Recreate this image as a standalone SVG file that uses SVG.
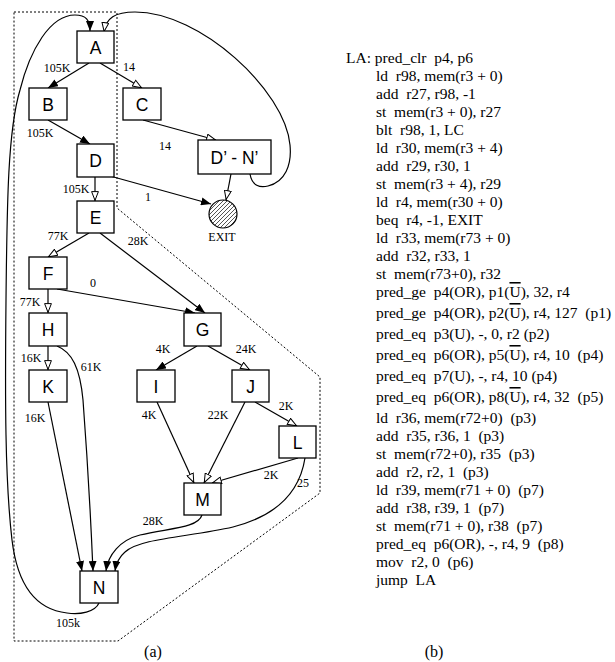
<svg xmlns="http://www.w3.org/2000/svg" width="615" height="662" viewBox="0 0 615 662">
<style>
.bg{fill:#fff}
.box{fill:#fff;stroke:#000;stroke-width:1.3}
.nl{font-family:"Liberation Sans",Arial,sans-serif;font-size:17.5px;text-anchor:middle;fill:#000}
.el{font-family:"Liberation Serif","Times New Roman",serif;font-size:12px;text-anchor:middle;fill:#000}
.cap{font-family:"Liberation Serif","Times New Roman",serif;font-size:16px;text-anchor:middle;fill:#000}
.code{font-family:"Liberation Serif","Times New Roman",serif;font-size:15.5px;fill:#000;white-space:pre}
.e{fill:none;stroke:#000;stroke-width:1.2}
.f{marker-end:url(#af)}
.o{marker-end:url(#ao)}
.dot{fill:none;stroke:#000;stroke-width:1;stroke-dasharray:2,2}
</style>
<defs>
<marker id="af" viewBox="0 0 10 8" refX="10" refY="4" markerWidth="10" markerHeight="8" orient="auto" markerUnits="userSpaceOnUse"><path d="M0,0 L10,4 L0,8 z" fill="#000"/></marker>
<marker id="ao" viewBox="0 0 10 8" refX="10" refY="4" markerWidth="10" markerHeight="8" orient="auto" markerUnits="userSpaceOnUse"><path d="M0.6,0.6 L9.4,4 L0.6,7.4 z" fill="#fff" stroke="#000" stroke-width="1"/></marker>
<pattern id="hatch" patternUnits="userSpaceOnUse" width="4" height="4"><rect width="4" height="4" fill="#fff"/><path d="M-1,1 l2,-2 M0,4 l4,-4 M3,5 l2,-2" stroke="#555" stroke-width="1"/></pattern>
</defs>
<rect class="bg" x="0" y="0" width="615" height="662"/>

<g id="region">
<path class="dot" d="M14,12 L117,12 L117,208 L320,377 L320,493 L118,641 L14,641 Z"/>
</g>

<g id="connectors">
<path class="e f" d="M89,63 L48,88"/>
<path class="e o" d="M100,63 L142,88"/>
<path class="e f" d="M48,120 L90,144"/>
<path class="e o" d="M143,120 L216,140"/>
<path class="e o" d="M95,177 L95,201"/>
<path class="e f" d="M110,176 L211,204"/>
<path class="e o" d="M231,174 L226,200"/>
<path class="e o" d="M250,174 C252,186 260,188 268,186 C285,182 292,165 290,145 C285,90 200,12 135,12 C115,12 106,18 104,32"/>
<path class="e f" d="M99,603 C95,612 80,615 67,613 C40,610 18,590 12,540 C5,480 5,400 6,300 C7,200 8,130 20,90 C30,50 50,15 75,15 C86,15 90,20 90,31"/>
<path class="e o" d="M89,233 L48,257"/>
<path class="e f" d="M100,233 L205,313"/>
<path class="e o" d="M48,289 L48,313"/>
<path class="e f" d="M57,289 L195,313"/>
<path class="e o" d="M48,346 L48,370"/>
<path class="e f" d="M57,346 C72,352 80,368 83,400 C86,440 90,500 93,571"/>
<path class="e f" d="M48,402 L82,571"/>
<path class="e f" d="M197,346 L156,370"/>
<path class="e o" d="M208,346 L250,370"/>
<path class="e o" d="M157,402 L194,483"/>
<path class="e o" d="M245,402 L204,483"/>
<path class="e o" d="M255,402 L297,426"/>
<path class="e o" d="M298,458 L212,483"/>
<path class="e f" d="M305,458 C300,490 280,515 233,527 C190,537 140,538 125,552 C118,558 116,564 115,571"/>
<path class="e f" d="M202,515 C198,528 170,528 140,535 C120,540 108,555 106,571"/>
</g>

<g id="edge-labels">
<text class="el" x="57" y="72">105K</text>
<text class="el" x="129" y="71">14</text>
<text class="el" x="40" y="137">105K</text>
<text class="el" x="165" y="150">14</text>
<text class="el" x="76" y="193">105K</text>
<text class="el" x="148" y="201">1</text>
<text class="el" x="58" y="240">77K</text>
<text class="el" x="138" y="245">28K</text>
<text class="el" x="93" y="287">0</text>
<text class="el" x="30" y="306">77K</text>
<text class="el" x="31" y="362">16K</text>
<text class="el" x="91" y="371">61K</text>
<text class="el" x="163" y="353">4K</text>
<text class="el" x="246" y="353">24K</text>
<text class="el" x="35" y="422">16K</text>
<text class="el" x="149" y="419">4K</text>
<text class="el" x="218" y="419">22K</text>
<text class="el" x="286" y="410">2K</text>
<text class="el" x="271" y="479">2K</text>
<text class="el" x="303" y="487">25</text>
<text class="el" x="153" y="525">28K</text>
<text class="el" x="68" y="627">105k</text>
</g>

<g id="A"><rect class="box" x="77" y="31" width="37" height="32"/><text class="nl" x="95.5" y="53.5">A</text></g>
<g id="B"><rect class="box" x="29" y="88" width="38" height="32"/><text class="nl" x="48" y="110.5">B</text></g>
<g id="C"><rect class="box" x="123" y="88" width="38" height="32"/><text class="nl" x="142" y="110.5">C</text></g>
<g id="D"><rect class="box" x="77" y="144" width="37" height="33"/><text class="nl" x="95.5" y="167">D</text></g>
<g id="DN"><rect class="box" x="198" y="140" width="73" height="34"/><text class="nl" x="234.5" y="163.5">D’ - N’</text></g>
<g id="EXIT"><circle cx="223" cy="214" r="14" fill="url(#hatch)" stroke="#000" stroke-width="1.2"/><text class="el" x="222" y="241">EXIT</text></g>
<g id="E"><rect class="box" x="77" y="201" width="37" height="32"/><text class="nl" x="95.5" y="223.5">E</text></g>
<g id="F"><rect class="box" x="29" y="257" width="38" height="32"/><text class="nl" x="48" y="279.5">F</text></g>
<g id="G"><rect class="box" x="184" y="313" width="37" height="33"/><text class="nl" x="202.5" y="336">G</text></g>
<g id="H"><rect class="box" x="29" y="313" width="38" height="33"/><text class="nl" x="48" y="336">H</text></g>
<g id="K"><rect class="box" x="29" y="370" width="38" height="32"/><text class="nl" x="48" y="392.5">K</text></g>
<g id="I"><rect class="box" x="137" y="370" width="38" height="32"/><text class="nl" x="156" y="392.5">I</text></g>
<g id="J"><rect class="box" x="232" y="370" width="37" height="32"/><text class="nl" x="250.5" y="392.5">J</text></g>
<g id="L"><rect class="box" x="279" y="426" width="37" height="32"/><text class="nl" x="297.5" y="448.5">L</text></g>
<g id="M"><rect class="box" x="184" y="483" width="37" height="32"/><text class="nl" x="202.5" y="505.5">M</text></g>
<g id="N"><rect class="box" x="80" y="571" width="38" height="32"/><text class="nl" x="99" y="593.5">N</text></g>

<g id="captions">
<text class="cap" x="153" y="657">(a)</text>
<text class="cap" x="434" y="657">(b)</text>
</g>

<g id="code" xml:space="preserve">
<text class="code" x="346" y="63">LA: pred_clr  p4, p6</text>
<text class="code" x="376" y="81">ld  r98, mem(r3 + 0)</text>
<text class="code" x="376" y="99">add  r27, r98, -1</text>
<text class="code" x="376" y="117">st  mem(r3 + 0), r27</text>
<text class="code" x="376" y="135">blt  r98, 1, LC</text>
<text class="code" x="376" y="153">ld  r30, mem(r3 + 4)</text>
<text class="code" x="376" y="171">add  r29, r30, 1</text>
<text class="code" x="376" y="189">st  mem(r3 + 4), r29</text>
<text class="code" x="376" y="207">ld  r4, mem(r30 + 0)</text>
<text class="code" x="376" y="225">beq  r4, -1, EXIT</text>
<text class="code" x="376" y="243">ld  r33, mem(r73 + 0)</text>
<text class="code" x="376" y="261">add  r32, r33, 1</text>
<text class="code" x="376" y="279">st  mem(r73+0), r32</text>
<text class="code" x="376" y="297">pred_ge  p4(OR), p1(<tspan text-decoration="overline">U</tspan>), 32, r4</text>
<text class="code" x="376" y="318">pred_ge  p4(OR), p2(<tspan text-decoration="overline">U</tspan>), r4, 127  (p1)</text>
<text class="code" x="376" y="339">pred_eq  p3(U), -, 0, r2 (p2)</text>
<text class="code" x="376" y="360">pred_eq  p6(OR), p5(<tspan text-decoration="overline">U</tspan>), r4, 10  (p4)</text>
<text class="code" x="376" y="381">pred_eq  p7(U), -, r4, 10 (p4)</text>
<text class="code" x="376" y="402">pred_eq  p6(OR), p8(<tspan text-decoration="overline">U</tspan>), r4, 32  (p5)</text>
<text class="code" x="376" y="423">ld  r36, mem(r72+0)  (p3)</text>
<text class="code" x="376" y="441">add  r35, r36, 1  (p3)</text>
<text class="code" x="376" y="459">st  mem(r72+0), r35  (p3)</text>
<text class="code" x="376" y="477">add  r2, r2, 1  (p3)</text>
<text class="code" x="376" y="495">ld  r39, mem(r71 + 0)  (p7)</text>
<text class="code" x="376" y="513">add  r38, r39, 1  (p7)</text>
<text class="code" x="376" y="531">st  mem(r71 + 0), r38  (p7)</text>
<text class="code" x="376" y="549">pred_eq  p6(OR), -, r4, 9  (p8)</text>
<text class="code" x="376" y="567">mov  r2, 0  (p6)</text>
<text class="code" x="376" y="585">jump  LA</text>
</g>
</svg>
